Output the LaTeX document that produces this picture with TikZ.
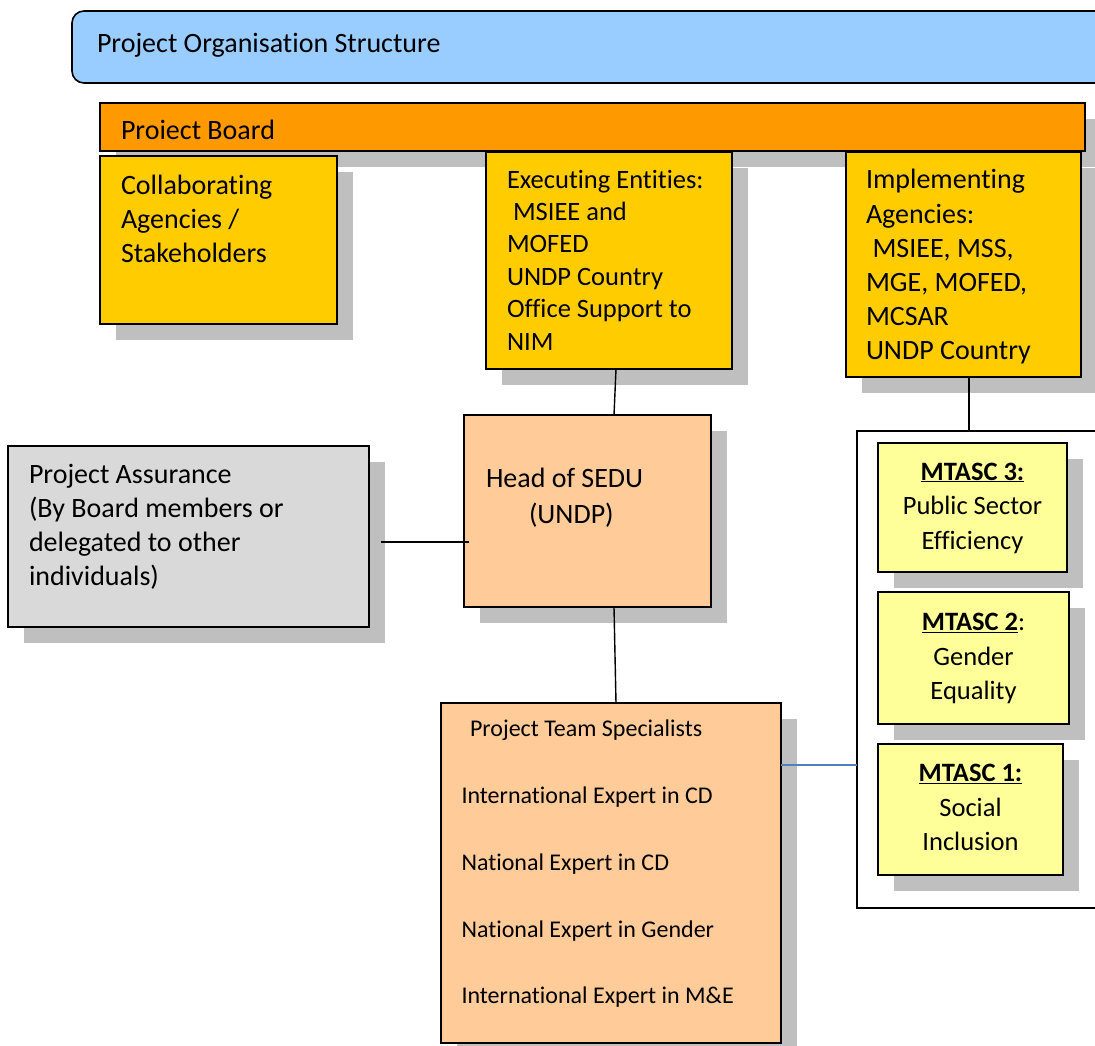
\documentclass[tikz,border=0pt]{standalone}
\usepackage{fontspec}
\setmainfont{Carlito}[Ligatures={NoCommon,NoContextual}]
\usetikzlibrary{shadows,calc}
\definecolor{titleblue}{HTML}{99CCFF}
\definecolor{boardorange}{HTML}{FF9900}
\definecolor{goldbox}{HTML}{FFCC00}
\definecolor{peach}{HTML}{FFCC99}
\definecolor{lightgreybox}{HTML}{D9D9D9}
\definecolor{paleyellow}{HTML}{FFFF99}
\definecolor{shadowgrey}{HTML}{BFBFBF}
\definecolor{linkblue}{HTML}{4F81BD}
\begin{document}
\begin{tikzpicture}[x=1pt,y=-1pt,
  box/.style={draw=black, line width=1.6pt, inner sep=0pt, outer sep=0pt, anchor=north west},
  shad/.style={drop shadow={shadow xshift=16pt, shadow yshift=-16pt, fill=shadowgrey, opacity=1, draw=none}},
  lbl/.style={inner sep=0pt, outer sep=0pt, anchor=base west},
  clbl/.style={inner sep=0pt, outer sep=0pt, anchor=base},
  conn/.style={line width=1.4pt, draw=black}]
\path[use as bounding box, clip] (0,0) rectangle (1095,1046);
\fill[white] (0,0) rectangle (1095,1046);

% title
\node[box, rounded corners=12pt, fill=titleblue, minimum width=1060pt, minimum height=72pt] (title) at (72,11) {};
\node[lbl] (titlet) at (97,53) {\fontsize{28}{34}\selectfont Project Organisation Structure};

% board
\node[box, shad, fill=boardorange, minimum width=985pt, minimum height=48pt] (board) at (100,103) {};
\node[lbl] (boardt) at (121,140) {\fontsize{28}{34}\selectfont Proiect Board};

% top row
\node[box, shad, fill=goldbox, minimum width=237pt, minimum height=168pt] (collab) at (100,156) {};
\node[lbl] (collabt) at (121,194) {\parbox[t]{220pt}{\fontsize{28}{34}\selectfont Collaborating\\Agencies /\\Stakeholders}};

\node[box, shad, fill=goldbox, minimum width=246pt, minimum height=217pt] (exec) at (486,152) {};
\node[lbl] (exect) at (507,188) {\parbox[t]{230pt}{\fontsize{26.5}{32.5}\selectfont Executing Entities:\\\hspace*{6pt}MSIEE and\\MOFED\\UNDP Country\\Office Support to\\NIM}};

\node[box, shad, fill=goldbox, minimum width=235pt, minimum height=225pt] (impl) at (846,152) {};
\node[lbl] (implt) at (866,189) {\parbox[t]{220pt}{\fontsize{28}{34.2}\selectfont Implementing\\Agencies:\\\hspace*{6.5pt}MSIEE, MSS,\\MGE, MOFED,\\MCSAR\\UNDP Country}};

% middle
\node[box, shad, fill=peach, minimum width=247pt, minimum height=192pt] (head) at (464,415) {};
\node[lbl] (headt) at (486,487.7) {\parbox[t]{230pt}{\fontsize{28}{35.3}\selectfont Head of SEDU\\\hspace*{43pt}(UNDP)}};

\node[box, shad, fill=lightgreybox, minimum width=361pt, minimum height=181pt] (assur) at (8,446) {};
\node[lbl] (assurt) at (29,483) {\parbox[t]{340pt}{\fontsize{28}{34}\selectfont Project Assurance\\(By Board members or\\delegated to other\\individuals)}};

% team
\node[box, shad, fill=peach, minimum width=340pt, minimum height=340pt] (team) at (441,703) {};
\node[lbl] (teamt) at (461.5,736.7) {\parbox[t]{320pt}{\fontsize{24}{66.8}\selectfont \hspace*{8.5pt}Project Team Specialists\\International Expert in CD\\National Expert in CD\\National Expert in Gender\\International Expert in M\&E}};

% right group
\node[box, fill=white, minimum width=260pt, minimum height=477pt] (group) at (857,431) {};
\node[box, shad, fill=paleyellow, minimum width=189pt, minimum height=129pt] (m3) at (878,443) {};
\node[clbl] (m3t) at (972.5,480) {\parbox[t]{189pt}{\centering\fontsize{26.5}{34.7}\selectfont \underline{\textbf{MTASC 3:}}\\Public Sector\\Efficiency}};
\node[box, shad, fill=paleyellow, minimum width=191pt, minimum height=132pt] (m2) at (878,592) {};
\node[clbl] (m2t) at (973.5,630.7) {\parbox[t]{191pt}{\centering\fontsize{26.5}{34.6}\selectfont \underline{\textbf{MTASC 2}}:\\Gender\\Equality}};
\node[box, shad, fill=paleyellow, minimum width=185pt, minimum height=131pt] (m1) at (878,744) {};
\node[clbl] (m1t) at (970.5,781.7) {\parbox[t]{185pt}{\centering\fontsize{26.5}{34.3}\selectfont \underline{\textbf{MTASC 1:}}\\Social\\Inclusion}};

% connectors
\draw[conn] ($(exec.south)+(7,0)$) -- ($(head.north)+(26.5,0)$);
\draw[conn] ($(head.south)+(26.5,0)$) -- ($(team.north)+(5,0)$);
\draw[conn] ($(assur.east)+(12,5.5)$) -- ($(head.west)+(5,31)$);
\coordinate (ia) at ($(impl.south)+(5.5,0)$);
\draw[conn] (ia) -- (ia |- group.north);
\coordinate (tb) at ($(team.east)+(0,-108)$);
\draw[line width=1.2pt, draw=linkblue] (tb) -- (tb -| group.west);
\end{tikzpicture}
\end{document}
